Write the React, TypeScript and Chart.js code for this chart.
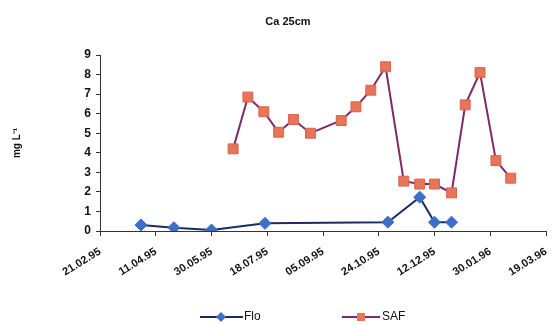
import React, { useEffect, useRef } from "react";
import { Chart, registerables } from "chart.js";

Chart.register(...registerables);

const TITLE = "Ca 25cm";
const Y_TITLE = "mg L\u207B\u00B9";
const tickLabels = ["21.02.95", "11.04.95", "30.05.95", "18.07.95", "05.09.95", "24.10.95", "12.12.95", "30.01.96", "19.03.96"];
const floDates = ["29.03.95", "27.04.95", "30.05.95", "16.07.95", "01.11.95", "29.11.95", "12.12.95", "27.12.95"];
const floValues = [0.31, 0.17, 0.05, 0.39, 0.45, 1.73, 0.45, 0.45];
const safDates = ["18.06.95", "01.07.95", "15.07.95", "28.07.95", "10.08.95", "25.08.95", "21.09.95", "04.10.95", "17.10.95", "30.10.95", "15.11.95", "29.11.95", "12.12.95", "27.12.95", "08.01.96", "21.01.96", "04.02.96", "17.02.96"];
const safValues = [4.2, 6.85, 6.1, 5.05, 5.7, 5.0, 5.65, 6.35, 7.2, 8.4, 2.55, 2.4, 2.4, 1.95, 6.45, 8.1, 3.6, 2.7];

const FLO_LINE = "#1c2c5e";
const FLO_MARK = "#3b6fc9";
const SAF_LINE = "#7b2a6a";
const SAF_MARK = "#e8745a";
const FONT = "'Liberation Sans', Arial, sans-serif";

function toDay(s: string): number {
  const [d, m, y] = s.split(".").map(Number);
  const t0 = Date.UTC(1995, 1, 21);
  return Math.round((Date.UTC(1900 + y, m - 1, d) - t0) / 86400000);
}

const overlay = {
  id: "overlay",
  afterDraw(chart: any) {
    const ctx = chart.ctx as CanvasRenderingContext2D;
    ctx.save();
    ctx.fillStyle = "#111";
    ctx.font = `bold 11px ${FONT}`;
    ctx.textAlign = "center";
    ctx.textBaseline = "middle";
    ctx.fillText(TITLE, 288, 22);

    const ly = 317;
    ctx.strokeStyle = FLO_LINE;
    ctx.lineWidth = 2;
    ctx.beginPath();
    ctx.moveTo(200, ly);
    ctx.lineTo(243, ly);
    ctx.stroke();
    ctx.fillStyle = FLO_MARK;
    ctx.beginPath();
    ctx.moveTo(221, ly - 5);
    ctx.lineTo(226, ly);
    ctx.lineTo(221, ly + 5);
    ctx.lineTo(216, ly);
    ctx.closePath();
    ctx.fill();
    ctx.strokeStyle = SAF_LINE;
    ctx.beginPath();
    ctx.moveTo(342, ly);
    ctx.lineTo(380, ly);
    ctx.stroke();
    ctx.fillStyle = SAF_MARK;
    ctx.fillRect(357, ly - 4, 8, 8);

    ctx.fillStyle = "#111";
    ctx.font = `12px ${FONT}`;
    ctx.textAlign = "left";
    ctx.fillText("Flo", 244, ly);
    ctx.fillText("SAF", 382, ly);
    ctx.restore();
  },
};

export default function App() {
  const ref = useRef<HTMLCanvasElement | null>(null);
  useEffect(() => {
    document.body.style.margin = "0";
    const canvas = ref.current;
    if (!canvas) return;
    const chart = new Chart(canvas, {
      type: "line",
      data: {
        datasets: [
          {
            label: "Flo",
            data: floDates.map((d, i) => ({ x: toDay(d), y: floValues[i] })),
            borderColor: FLO_LINE,
            backgroundColor: FLO_MARK,
            pointBorderColor: FLO_MARK,
            borderWidth: 2,
            pointStyle: "rectRot",
            pointRadius: 6,
            pointBorderWidth: 1,
            tension: 0,
          },
          {
            label: "SAF",
            data: safDates.map((d, i) => ({ x: toDay(d), y: safValues[i] })),
            borderColor: SAF_LINE,
            backgroundColor: SAF_MARK,
            pointBorderColor: "#d8624a",
            borderWidth: 2,
            pointStyle: "rect",
            pointRadius: 7,
            pointBorderWidth: 1,
            tension: 0,
          },
        ],
      },
      options: {
        animation: false,
        responsive: false,
        maintainAspectRatio: false,
        layout: { padding: { top: 55, left: 0, right: 0, bottom: 0 } },
        plugins: { legend: { display: false }, title: { display: false }, tooltip: { enabled: false } },
        scales: {
          x: {
            type: "linear",
            min: toDay(tickLabels[0]),
            max: toDay(tickLabels[tickLabels.length - 1]),
            afterBuildTicks: (scale: any) => {
              scale.ticks = tickLabels.map((t) => ({ value: toDay(t) }));
            },
            afterFit: (scale: any) => {
              scale.height = 94;
              scale.paddingRight = 0;
              scale.paddingLeft = 0;
            },
            grid: { display: true, drawOnChartArea: false, drawTicks: true, tickLength: 5, color: "#333" },
            border: { display: true, color: "#333", width: 1 },
            ticks: {
              autoSkip: false,
              minRotation: 32,
              maxRotation: 32,
              padding: 9,
              color: "#111",
              font: { family: FONT, size: 11, weight: "bold" },
              callback: (_v: any, i: number) => tickLabels[i],
            },
          },
          y: {
            min: 0,
            max: 9,
            afterFit: (scale: any) => {
              scale.width = 100;
            },
            grid: { display: true, drawOnChartArea: false, drawTicks: true, tickLength: 4, color: "#333" },
            border: { display: true, color: "#333", width: 1 },
            title: {
              display: true,
              text: Y_TITLE,
              color: "#111",
              font: { family: FONT, size: 10, weight: "bold" },
              padding: { top: 11, bottom: 0 },
            },
            ticks: {
              stepSize: 1,
              padding: 5,
              color: "#111",
              font: { family: FONT, size: 12, weight: "bold" },
            },
          },
        },
      },
      plugins: [overlay],
    } as any);
    return () => chart.destroy();
  }, []);
  return (
    <div style={{ width: 554, height: 325 }}>
      <canvas ref={ref} width={554} height={325} style={{ display: "block" }} />
    </div>
  );
}
